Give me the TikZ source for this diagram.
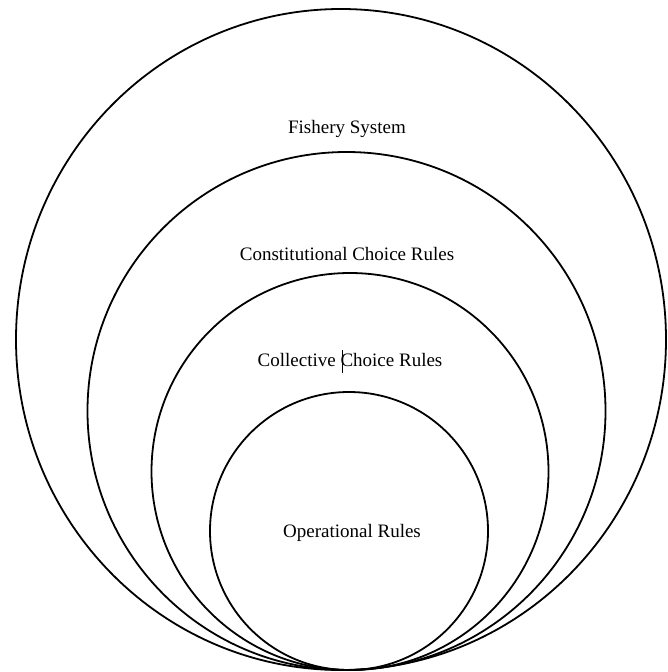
\documentclass[tikz,border=0pt]{standalone}
\usepackage{fontspec}
\setmainfont{Liberation Serif}
\begin{document}
\begin{tikzpicture}[x=1pt,y=-1pt,
  ring/.style={draw=black, line width=1.8pt},
  lbl/.style={font=\fontsize{19}{22}\selectfont, inner sep=0pt, anchor=base}]
\useasboundingbox (0,0) rectangle (667,672);
\draw[ring] (341,339.5) ellipse [x radius=325, y radius=330.5];
\draw[ring] (346.5,411) circle [radius=259];
\draw[ring] (350,471.5) circle [radius=198.5];
\draw[ring] (349,531) circle [radius=139];
\node[lbl] (fs) at (347,133) {Fishery System};
\node[lbl] (cons) at (347,260) {Constitutional Choice Rules};
\node[lbl] (coll) at (350,366) {Collective Choice Rules};
\node[lbl] (op) at (352,537) {Operational Rules};
\coordinate (cur1) at (342,350);
\coordinate (cur2) at (342,373);
\draw[line width=0.8pt] (cur1) -- (cur2);
\end{tikzpicture}
\end{document}
